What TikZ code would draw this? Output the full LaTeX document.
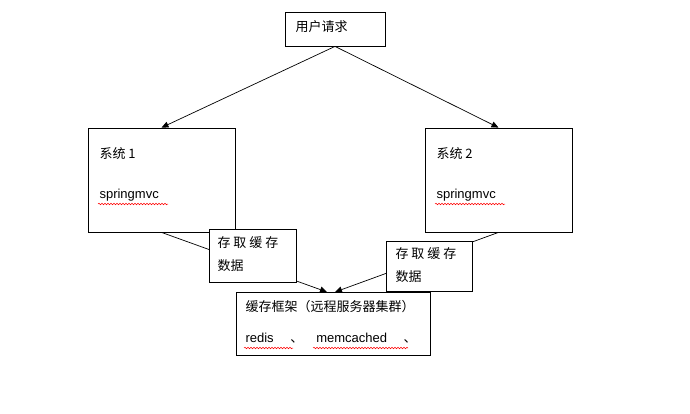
\documentclass[tikz,border=0pt]{standalone}
\usepackage{fontspec}
\setmainfont{Liberation Sans}
\newfontfamily\cjk{Noto Sans CJK SC}
\usetikzlibrary{arrows.meta,decorations.pathmorphing}
\begin{document}
\begin{tikzpicture}[x=1pt,y=-1pt,
  box/.style={draw,fill=white,line width=0.8pt,inner sep=0pt},
  txt/.style={anchor=west,font=\fontsize{13}{15}\selectfont},
  conn/.style={line width=0.7pt,-{Triangle[length=7pt,width=6pt]}},
  wavy/.style={red,line width=0.5pt,decorate,decoration={snake,amplitude=0.8pt,segment length=3pt}}]
\useasboundingbox (0,0) rectangle (690,414);
\node[box,minimum width=100pt,minimum height=34pt] (top) at (335,29) {};
\node[txt] at (292,27) {\cjk 用户请求};
\node[box,minimum width=147pt,minimum height=104pt] (s1) at (161.5,180) {};
\node[box,minimum width=147pt,minimum height=104pt] (s2) at (498.5,180) {};
\node[txt] at (96,154) {\cjk 系统 1};
\node[txt] (sp1) at (96,195) {springmvc};
\node[txt] at (433,154) {\cjk 系统 2};
\node[txt] (sp2) at (433,195) {springmvc};
\draw[wavy] (98,204) -- (168,204);
\draw[wavy] (435,204) -- (505,204);
\node[box,minimum width=194pt,minimum height=63pt] (cache) at (333,323.5) {};
\node[txt] at (242,307) {\cjk 缓存框架（远程服务器集群）};
\node[txt] at (242,338) {redis \quad\cjk 、\quad\rmfamily memcached \quad\cjk 、};
\draw[wavy] (244,348) -- (293,348);
\draw[wavy] (313,348) -- (408,348);
\coordinate (e1) at (327,292);
\coordinate (e2) at (335,292);
\draw[conn] (top.south) -- (s1.north);
\draw[conn] (top.south) -- (s2.north);
\draw[conn] (s1.south) -- (e1);
\draw[conn] (s2.south) -- (e2);
\node[box,minimum width=87pt,minimum height=53pt] (l1) at (252.5,255.5) {};
\node[txt] at (214,243) {\cjk 存 取 缓 存};
\node[txt] at (214,266) {\cjk 数据};
\node[box,minimum width=86pt,minimum height=50pt] (l2) at (429,266) {};
\node[txt] at (392,254) {\cjk 存 取 缓 存};
\node[txt] at (392,277) {\cjk 数据};
\end{tikzpicture}
\end{document}
